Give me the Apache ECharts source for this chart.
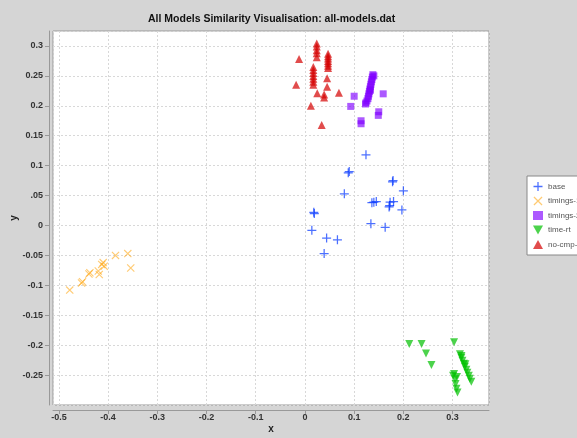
<!DOCTYPE html>
<html>
<head>
<meta charset="utf-8">
<script src="https://cdn.jsdelivr.net/npm/echarts@6/dist/echarts.min.js"></script>
<style>
  html, body { margin: 0; padding: 0; background: #d5d5d5; }
  #chart { width: 577px; height: 438px; }
</style>
</head>
<body>
<div id="chart"></div>
<script>
// series values, [x, y]
var basePts = [
  [0.124, 0.118], [0.088, 0.088], [0.090, 0.090], [0.178, 0.073], [0.179, 0.075],
  [0.200, 0.058], [0.080, 0.053], [0.136, 0.038], [0.140, 0.039], [0.145, 0.040],
  [0.173, 0.039], [0.180, 0.040], [0.171, 0.031], [0.172, 0.033], [0.197, 0.026],
  [0.018, 0.022], [0.019, 0.020], [0.134, 0.003], [0.163, -0.003], [0.014, -0.008],
  [0.044, -0.021], [0.066, -0.024], [0.039, -0.047]
];
var timings1Pts = [
  [-0.478, -0.108], [-0.454, -0.096], [-0.452, -0.094], [-0.439, -0.081], [-0.437, -0.079],
  [-0.420, -0.076], [-0.418, -0.082], [-0.413, -0.065], [-0.410, -0.062], [-0.408, -0.068],
  [-0.385, -0.050], [-0.360, -0.047], [-0.354, -0.071]
];
var timings2Pts = [
  [0.138, 0.252], [0.140, 0.250], [0.137, 0.248], [0.136, 0.244], [0.135, 0.240],
  [0.134, 0.236], [0.133, 0.232], [0.132, 0.228], [0.133, 0.226], [0.131, 0.224],
  [0.130, 0.220], [0.129, 0.216], [0.128, 0.212], [0.126, 0.208], [0.124, 0.205],
  [0.100, 0.216], [0.093, 0.199], [0.123, 0.203], [0.159, 0.220], [0.150, 0.190],
  [0.149, 0.184], [0.114, 0.175], [0.114, 0.170]
];
var timeRtPts = [
  [0.212, -0.198], [0.237, -0.198], [0.246, -0.214], [0.257, -0.233], [0.303, -0.195],
  [0.315, -0.215], [0.318, -0.218], [0.318, -0.221], [0.320, -0.226], [0.323, -0.231],
  [0.326, -0.232], [0.325, -0.236], [0.328, -0.241], [0.330, -0.246], [0.333, -0.251],
  [0.335, -0.256], [0.338, -0.261], [0.303, -0.248], [0.301, -0.251], [0.305, -0.257],
  [0.306, -0.265], [0.308, -0.273], [0.310, -0.279], [0.309, -0.253]
];
var noCmpPts = [
  [0.024, 0.304], [0.024, 0.299], [0.024, 0.293], [0.024, 0.288], [0.024, 0.281],
  [0.047, 0.287], [0.047, 0.283], [0.047, 0.279], [0.047, 0.275], [0.047, 0.271],
  [0.047, 0.267], [0.047, 0.263],
  [0.017, 0.265], [0.017, 0.260], [0.017, 0.255], [0.017, 0.250], [0.017, 0.245],
  [0.017, 0.240], [0.017, 0.235],
  [-0.012, 0.278], [-0.018, 0.235], [0.045, 0.246], [0.045, 0.232], [0.025, 0.221],
  [0.039, 0.219], [0.039, 0.214], [0.069, 0.222], [0.012, 0.200], [0.034, 0.168]
];
var seriesNames = ['base', 'timings-1', 'timings-2', 'time-rt', 'no-cmp-1-2'];

// symbols shaped like the java plot's markers
var plusPath = 'path://M0,4.3H10V5.7H0Z M4.3,0H5.7V10H4.3Z';
var crossPath = 'path://M0,1L1,0L10,9L9,10Z M9,0L10,1L1,10L0,9Z';
var downTriPath = 'path://M0,0L10,0L5,9Z';
var upTriPath = 'path://M5,0L10,9L0,9Z';
var font = '"Liberation Sans", Arial, sans-serif';

var chart = echarts.init(document.getElementById('chart'));

function tickFmt(v) {
  var s = String(+v.toFixed(3));
  // the original chart prints 0.05 as ".05"
  return s === '0.05' ? '.05' : s;
}

var axisCommon = {
  type: 'value',
  nameLocation: 'middle',
  nameMoveOverlap: false,
  nameTextStyle: { color: '#222', fontWeight: 'bold', fontSize: 10, fontFamily: font },
  axisLine: { show: true, onZero: false, lineStyle: { color: '#999', width: 1 } },
  axisTick: { show: true, length: 4, lineStyle: { color: '#999' } },
  splitLine: { show: true, lineStyle: { color: '#d8d8d8', type: [2, 2], width: 1 } }
};
var labelCommon = {
  color: '#333', fontSize: 9, fontWeight: 'bold', fontFamily: font,
  showMinLabel: false, showMaxLabel: false, formatter: tickFmt
};

var option = {
  backgroundColor: '#d5d5d5',
  animation: false,
  title: {
    text: 'All Models Similarity Visualisation: all-models.dat',
    left: 143,
    top: 9,
    textStyle: { color: '#111', fontSize: 10.5, fontWeight: 'bold', fontFamily: font }
  },
  grid: {
    left: 53, right: 88, top: 31, bottom: 33,
    outerBoundsMode: 'none',
    show: true, backgroundColor: '#fff', borderColor: '#999', borderWidth: 1
  },
  legend: {
    orient: 'vertical',
    left: 527,
    top: 176,
    backgroundColor: '#fff',
    borderColor: '#888',
    borderWidth: 1,
    padding: [6, 6, 6, 6],
    itemGap: 5.5,
    itemWidth: 10,
    itemHeight: 9,
    textStyle: { color: '#555', fontSize: 8, fontFamily: font },
    data: [
      { name: seriesNames[0], icon: plusPath },
      { name: seriesNames[1], icon: crossPath },
      { name: seriesNames[2], icon: 'rect' },
      { name: seriesNames[3], icon: downTriPath },
      { name: seriesNames[4], icon: upTriPath }
    ]
  },
  xAxis: Object.assign({}, axisCommon, {
    min: -0.512, max: 0.374, splitNumber: 9,
    name: 'x', nameGap: 14, offset: 5,
    axisLabel: Object.assign({ margin: 3 }, labelCommon)
  }),
  yAxis: Object.assign({}, axisCommon, {
    min: -0.3, max: 0.325, splitNumber: 12,
    name: 'y', nameGap: 30, offset: 4,
    axisLabel: Object.assign({ margin: 6 }, labelCommon)
  }),
  series: [
    {
      name: seriesNames[0], type: 'scatter', data: basePts,
      symbol: plusPath, symbolSize: 9,
      itemStyle: { color: '#0033ff', opacity: 0.7 }
    },
    {
      name: seriesNames[1], type: 'scatter', data: timings1Pts,
      symbol: crossPath, symbolSize: 8,
      itemStyle: { color: '#ffa000', opacity: 0.55 }
    },
    {
      name: seriesNames[2], type: 'scatter', data: timings2Pts,
      symbol: 'rect', symbolSize: 7,
      itemStyle: { color: '#7f00ff', opacity: 0.65 }
    },
    {
      name: seriesNames[3], type: 'scatter', data: timeRtPts,
      symbol: downTriPath, symbolSize: 8,
      itemStyle: { color: '#00c000', opacity: 0.7 }
    },
    {
      name: seriesNames[4], type: 'scatter', data: noCmpPts,
      symbol: upTriPath, symbolSize: 8,
      itemStyle: { color: '#d40000', opacity: 0.7 }
    }
  ]
};
chart.setOption(option);
</script>
</body>
</html>
